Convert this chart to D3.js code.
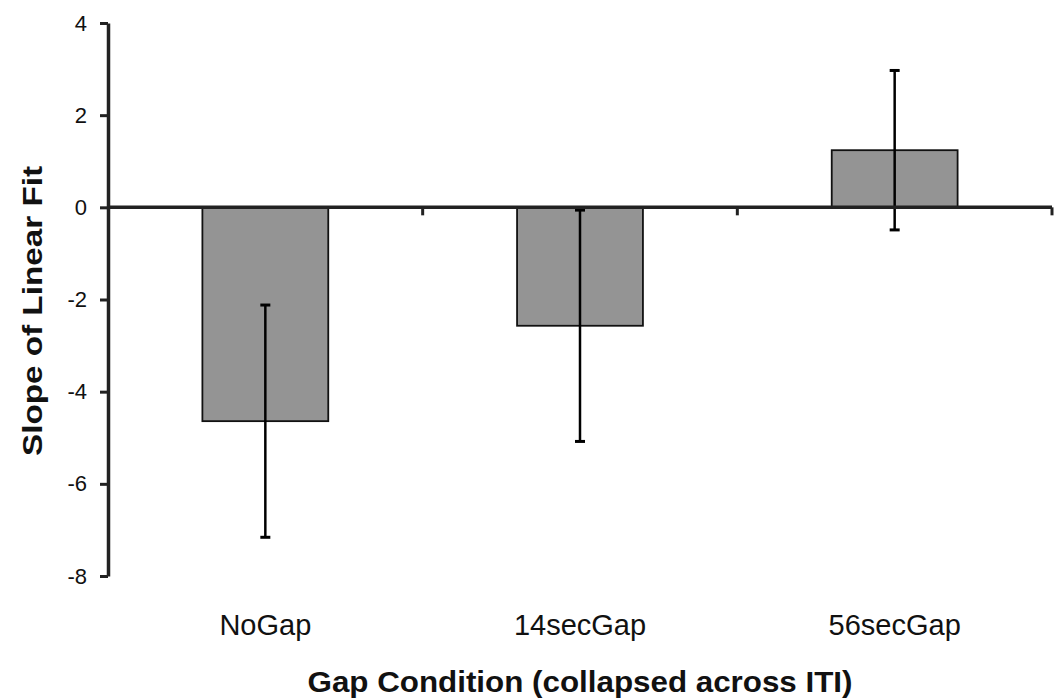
<!DOCTYPE html>
<html>
<head>
<meta charset="utf-8">
<script src="https://cdn.jsdelivr.net/npm/d3@7/dist/d3.min.js"></script>
<style>
  html, body { margin: 0; padding: 0; background: #fff; }
  svg { display: block; }
  text { font-family: "Liberation Sans", Arial, sans-serif; fill: #111; }
</style>
</head>
<body>
<svg id="chart" width="1059" height="699"></svg>
<script>
// Mean slope of the linear fit per gap condition, with error bar half-widths
const categories = ["NoGap", "14secGap", "56secGap"];
const slopes = [-4.64, -2.57, 1.24];
const errors = [2.52, 2.51, 1.73];
const yTicks = [4, 2, 0, -2, -4, -6, -8];

const svg = d3.select("#chart");
const plotLeft = 108, plotRight = 1052, plotTop = 23, plotBottom = 576;

const x = d3.scaleBand()
  .domain(categories)
  .range([plotLeft, plotRight])
  .paddingInner(0.6)
  .paddingOuter(0.3);

const y = d3.scaleLinear().domain([-8, 4]).range([plotBottom, plotTop]);

const rows = categories.map((c, i) => ({ c, v: slopes[i], e: errors[i] }));

// bars
svg.append("g").selectAll("rect")
  .data(rows)
  .join("rect")
  .attr("x", d => x(d.c))
  .attr("width", x.bandwidth())
  .attr("y", d => y(Math.max(0, d.v)))
  .attr("height", d => Math.abs(y(d.v) - y(0)))
  .attr("fill", "#949494")
  .attr("stroke", "#111")
  .attr("stroke-width", 1.8);

// error bars
const eb = svg.append("g").attr("stroke", "#000");
rows.forEach(d => {
  const cx = x(d.c) + x.bandwidth() / 2;
  const hi = y(d.v + d.e), lo = y(d.v - d.e);
  eb.append("line").attr("x1", cx).attr("x2", cx).attr("y1", hi).attr("y2", lo)
    .attr("stroke-width", 2.5);
  [hi, lo].forEach(yy => {
    eb.append("line").attr("x1", cx - 5).attr("x2", cx + 5).attr("y1", yy).attr("y2", yy)
      .attr("stroke-width", 3);
  });
});

// y axis
const yAxis = d3.axisLeft(y).tickValues(yTicks).tickSize(8).tickSizeOuter(0).tickPadding(13)
  .tickFormat(d3.format("d"));
const gy = svg.append("g").attr("transform", `translate(${plotLeft},0)`).call(yAxis);
gy.attr("font-size", null).attr("font-family", null);
gy.select(".domain").attr("stroke", "#222").attr("stroke-width", 3.5);
gy.selectAll(".tick line").attr("stroke", "#222").attr("stroke-width", 3);
gy.selectAll(".tick text")
  .style("font-size", "22px")
  .attr("fill", "#111")
  .text(d => d < 0 ? "-" + Math.abs(d) : String(d));

// x axis along zero, ticks at category boundaries
const step = x.step();
const zeroY = y(0);
const gx = svg.append("g");
gx.append("line").attr("x1", plotLeft).attr("x2", plotRight).attr("y1", zeroY).attr("y2", zeroY)
  .attr("stroke", "#222").attr("stroke-width", 3.5);
categories.forEach(c => {
  const bx = x(c) - step * 0.3 + step;
  gx.append("line").attr("x1", bx).attr("x2", bx).attr("y1", zeroY).attr("y2", zeroY + 8)
    .attr("stroke", "#222").attr("stroke-width", 3);
});

// category labels
svg.append("g").selectAll("text")
  .data(categories)
  .join("text")
  .attr("x", d => x(d) + x.bandwidth() / 2)
  .attr("y", 635)
  .attr("text-anchor", "middle")
  .style("font-size", "29px")
  .text(d => d);

// axis titles
svg.append("text")
  .attr("x", (plotLeft + plotRight) / 2)
  .attr("y", 692)
  .attr("text-anchor", "middle")
  .style("font-size", "29px")
  .style("font-weight", "bold")
  .attr("textLength", 545)
  .attr("lengthAdjust", "spacingAndGlyphs")
  .text("Gap Condition (collapsed across ITI)");

svg.append("text")
  .attr("transform", "translate(42,311) rotate(-90)")
  .attr("text-anchor", "middle")
  .style("font-size", "28px")
  .style("font-weight", "bold")
  .attr("textLength", 290)
  .attr("lengthAdjust", "spacingAndGlyphs")
  .text("Slope of Linear Fit");
</script>
</body>
</html>
